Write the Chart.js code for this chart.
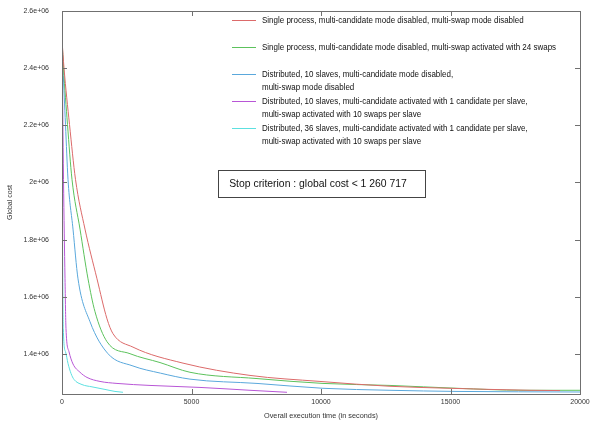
<!DOCTYPE html>
<html>
<head>
<meta charset="utf-8">
<script src="https://cdn.jsdelivr.net/npm/chart.js@4.4.0/dist/chart.umd.min.js"></script>
<style>
  html, body { margin: 0; padding: 0; background: #fff; }
  #wrap { width: 590px; height: 422px; }
</style>
</head>
<body>
<div id="wrap"><canvas id="chart" width="590" height="422"></canvas></div>
<script>
// execution time (s) / global cost
const singleTime = [0, 77, 290, 521, 888, 1351, 1737, 1969, 2741, 4672, 7259, 9961, 12664, 14981, 18070, 19230];
const singleCost = [2499000, 2401000, 2203000, 2011000, 1837000, 1663000, 1523000, 1471000, 1424000, 1368000, 1325000, 1304000, 1287000, 1280000, 1273000, 1272000];

const swapTime = [0, 58, 212, 386, 695, 1004, 1274, 1737, 2625, 3784, 4942, 7529, 10077, 12664, 15251, 17800, 20000];
const swapCost = [2499000, 2401000, 2203000, 2011000, 1837000, 1663000, 1548000, 1443000, 1401000, 1370000, 1336000, 1314000, 1297000, 1290000, 1280000, 1273000, 1273000];

const dist10Time = [0, 39, 135, 232, 425, 618, 1081, 1776, 2741, 3800, 4942, 7529, 10077, 12664, 15251, 20000];
const dist10Cost = [2499000, 2401000, 2203000, 2011000, 1837000, 1663000, 1513000, 1401000, 1358000, 1333000, 1312000, 1297000, 1280000, 1273000, 1269000, 1267000];

const multi10Time = [0, 58, 116, 154, 270, 425, 695, 965, 1467, 2123, 3398, 5328, 7259, 8687];
const multi10Cost = [2499000, 2011000, 1663000, 1489000, 1408000, 1365000, 1336000, 1318000, 1304000, 1297000, 1290000, 1283000, 1273000, 1266000];

const multi36Time = [0, 12, 50, 135, 232, 347, 463, 772, 1158, 1660, 2046, 2355];
const multi36Cost = [2499000, 2011000, 1489000, 1408000, 1367000, 1332000, 1311000, 1293000, 1285000, 1276000, 1269000, 1266000];

const seriesLabels = [
  ['Single process, multi-candidate mode disabled, multi-swap mode disabled'],
  ['Single process, multi-candidate mode disabled, multi-swap activated with 24 swaps'],
  ['Distributed, 10 slaves, multi-candidate mode disabled,', 'multi-swap mode disabled'],
  ['Distributed, 10 slaves, multi-candidate activated with 1 candidate per slave,', 'multi-swap activated with 10 swaps per slave'],
  ['Distributed, 36 slaves, multi-candidate activated with 1 candidate per slave,', 'multi-swap activated with 10 swaps per slave']
];
const seriesColors = ['#dc6a6a', '#5cc25c', '#5aa8dc', '#b856d6', '#5ce0e0'];

const xTicks = [0, 5000, 10000, 15000, 20000];
const yTicks = [1400000, 1600000, 1800000, 2000000, 2200000, 2400000, 2600000];
const stopText = 'Stop criterion : global cost < 1 260 717';

const FONT = "'Liberation Sans', Arial, sans-serif";

const toPoints = (xs, ys) => xs.map((x, i) => ({ x, y: ys[i] }));
const seriesData = [
  toPoints(singleTime, singleCost),
  toPoints(swapTime, swapCost),
  toPoints(dist10Time, dist10Cost),
  toPoints(multi10Time, multi10Cost),
  toPoints(multi36Time, multi36Cost)
];

const fmtExp = (v) => Number((v / 1e6).toFixed(1)) + 'e+06';

// scales keep no extra padding, so the plot frame sits where layout.padding puts it
const noPad = (scale) => {
  scale.paddingTop = 0; scale.paddingBottom = 0;
  scale.paddingLeft = 0; scale.paddingRight = 0;
};

const framePlugin = {
  id: 'frame',
  afterDatasetsDraw(chart) {
    const { ctx, chartArea: a, scales: { x, y } } = chart;
    ctx.save();
    ctx.strokeStyle = '#707070';
    ctx.lineWidth = 1;
    ctx.strokeRect(a.left + 0.5, a.top + 0.5, a.right - a.left, a.bottom - a.top);
    ctx.beginPath();
    x.ticks.forEach((t) => {
      const px = Math.round(x.getPixelForValue(t.value)) + 0.5;
      ctx.moveTo(px, a.bottom); ctx.lineTo(px, a.bottom - 5);
      ctx.moveTo(px, a.top); ctx.lineTo(px, a.top + 5);
    });
    y.ticks.forEach((t) => {
      const py = Math.round(y.getPixelForValue(t.value)) + 0.5;
      ctx.moveTo(a.left, py); ctx.lineTo(a.left + 5, py);
      ctx.moveTo(a.right, py); ctx.lineTo(a.right - 5, py);
    });
    ctx.stroke();
    ctx.restore();
  }
};

const keyPlugin = {
  id: 'key',
  afterDraw(chart) {
    const { ctx } = chart;
    ctx.save();
    ctx.textBaseline = 'middle';
    ctx.fillStyle = '#111';
    chart.data.datasets.forEach((ds, i) => {
      const top = 20 + i * 27;
      ctx.strokeStyle = ds.borderColor;
      ctx.lineWidth = 1;
      ctx.beginPath();
      ctx.moveTo(232, top + 0.5);
      ctx.lineTo(256, top + 0.5);
      ctx.stroke();
      ds.keyLines.forEach((line, j) => {
        ctx.save();
        ctx.translate(262, top + j * 13);
        ctx.scale(0.84, 1);   // the key font is a condensed one
        ctx.font = '9.5px ' + FONT;
        ctx.fillText(line, 0, 0);
        ctx.restore();
      });
    });
    // stop criterion box
    ctx.strokeStyle = '#444';
    ctx.strokeRect(218.5, 170.5, 207, 27);
    ctx.font = '10.4px ' + FONT;
    ctx.textAlign = 'center';
    ctx.fillText(stopText, 318, 184);
    ctx.restore();
  }
};

new Chart(document.getElementById('chart'), {
  type: 'line',
  data: {
    datasets: seriesData.map((data, i) => ({
      label: seriesLabels[i].join(' '),
      keyLines: seriesLabels[i],
      data,
      borderColor: seriesColors[i],
      borderWidth: 1,
      pointRadius: 0,
      fill: false,
      cubicInterpolationMode: 'monotone'
    }))
  },
  options: {
    responsive: false,
    animation: false,
    layout: { padding: { top: 11, right: 10, left: 0, bottom: 0 } },
    plugins: { legend: { display: false }, tooltip: { enabled: false } },
    scales: {
      x: {
        type: 'linear',
        min: 0,
        max: 20000,
        afterFit(scale) { scale.height = 28; noPad(scale); },
        afterBuildTicks(scale) { scale.ticks = xTicks.map((value) => ({ value })); },
        grid: { display: false, drawTicks: false },
        border: { display: false },
        ticks: { padding: 4, maxRotation: 0, font: { family: FONT, size: 7 }, color: '#333', callback: (v) => String(v) },
        title: { display: true, text: 'Overall execution time (in seconds)', font: { family: FONT, size: 7.3 }, color: '#333', padding: { top: 0, bottom: 2 } }
      },
      y: {
        type: 'linear',
        min: 1260000,
        max: 2600000,
        afterFit(scale) { scale.width = 62; noPad(scale); },
        afterBuildTicks(scale) { scale.ticks = yTicks.map((value) => ({ value })); },
        grid: { display: false, drawTicks: false },
        border: { display: false },
        ticks: { padding: 13, font: { family: FONT, size: 7 }, color: '#333', callback: fmtExp },
        title: { display: true, text: 'Global cost', font: { family: FONT, size: 7 }, color: '#333', padding: { top: 6, bottom: 0 } }
      }
    }
  },
  plugins: [framePlugin, keyPlugin]
});
</script>
</body>
</html>
